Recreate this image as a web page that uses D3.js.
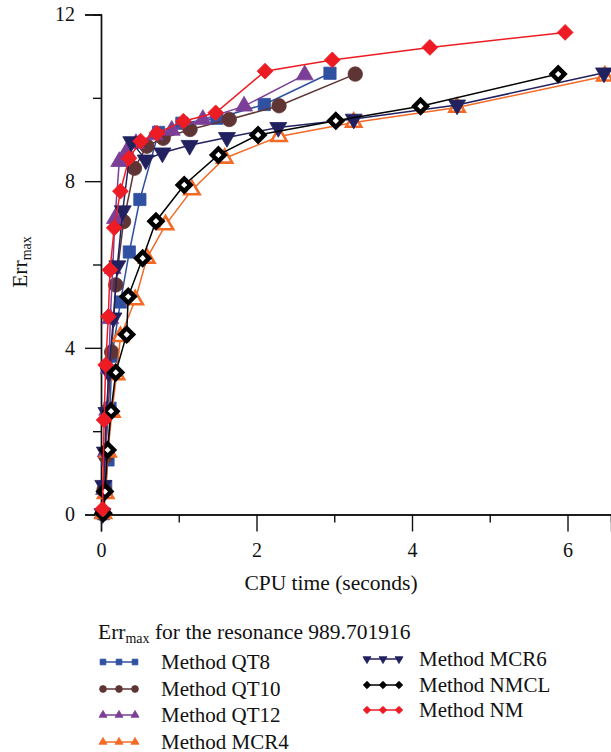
<!DOCTYPE html>
<html>
<head>
<meta charset="utf-8">
<script src="https://cdn.jsdelivr.net/npm/d3@7"></script>
<style>
  body { margin: 0; background: #fff; }
  text { font-family: "Liberation Serif", "Times New Roman", serif; fill: #111; }
</style>
</head>
<body>
<div id="chart"></div>
<script>

// DATA (CPU time in seconds, Err max)

const qt8X   = [0.03, 0.06, 0.09, 0.116, 0.14, 0.25, 0.364, 0.5, 0.74, 1.04, 1.49, 2.1, 2.945];
const qt8Y   = [0.02, 0.67, 1.31, 2.55, 3.8, 5.1, 6.3, 7.56, 9.17, 9.39, 9.51, 9.84, 10.59];

const qt10X  = [0.02, 0.04, 0.06, 0.09, 0.137, 0.19, 0.29, 0.43, 0.59, 0.8, 1.145, 1.65, 2.29, 3.27];
const qt10Y  = [0.02, 0.6, 1.4, 2.5, 3.9, 5.51, 7.03, 8.31, 8.84, 9.03, 9.24, 9.48, 9.81, 10.57];

const qt12X  = [0.02, 0.04, 0.06, 0.08, 0.1, 0.12, 0.15, 0.18, 0.235, 0.33, 0.45, 0.69, 0.91, 1.31, 1.84, 2.62];
const qt12Y  = [0.02, 0.6, 1.5, 2.5, 3.5, 4.7, 5.9, 7.1, 8.47, 8.71, 8.9, 9.11, 9.22, 9.48, 9.8, 10.55];

const mcr4X  = [0.03, 0.06, 0.09, 0.14, 0.2, 0.25, 0.44, 0.59, 0.83, 1.17, 1.59, 2.29, 3.25, 4.58, 6.48];
const mcr4Y  = [0.02, 0.5, 1.5, 2.45, 3.35, 4.27, 5.15, 6.15, 6.95, 7.79, 8.55, 9.07, 9.41, 9.77, 10.52];

const mcr6X  = [0.02, 0.03, 0.05, 0.07, 0.1, 0.16, 0.21, 0.28, 0.39, 0.575, 0.79, 1.14, 1.62, 2.28, 3.25, 4.58, 6.47];
const mcr6Y  = [0.02, 0.7, 1.5, 2.45, 3.4, 4.72, 5.97, 7.29, 8.95, 8.51, 8.68, 8.86, 9.05, 9.29, 9.49, 9.83, 10.6];

const nmclX  = [0.03, 0.05, 0.086, 0.129, 0.19, 0.33, 0.35, 0.536, 0.707, 1.07, 1.51, 2.02, 3.02, 4.11, 5.88];
const nmclY  = [0.03, 0.55, 1.55, 2.48, 3.41, 4.32, 5.23, 6.15, 7.04, 7.91, 8.63, 9.11, 9.45, 9.8, 10.57];

const nmX    = [0.02, 0.04, 0.06, 0.094, 0.116, 0.17, 0.25, 0.36, 0.51, 0.72, 1.06, 1.475, 2.11, 2.975, 4.23, 5.97];
const nmY    = [0.13, 2.27, 3.59, 4.75, 5.87, 6.88, 7.76, 8.55, 8.96, 9.15, 9.44, 9.64, 10.64, 10.91, 11.21, 11.57];

const xMajorTicks = [0, 2, 4, 6];
const xMinorTicks = [1, 3, 5];
const yMajorTicks = [0, 4, 8, 12];
const yMinorTicks = [2, 6, 10];

const legendTitle = "for the resonance 989.701916";

// SERIES

const series = [
    {name: "Method QT8",  xs: qt8X,  ys: qt8Y,  color: "#3050a2", shape: "square"},
    {name: "Method QT10", xs: qt10X, ys: qt10Y, color: "#5e3534", shape: "circle"},
    {name: "Method QT12", xs: qt12X, ys: qt12Y, color: "#7c3f97", shape: "triangle"},
    {name: "Method MCR4", xs: mcr4X, ys: mcr4Y, color: "#f26a25", shape: "openTriangle"},
    {name: "Method MCR6", xs: mcr6X, ys: mcr6Y, color: "#222160", shape: "downTriangle"},
    {name: "Method NMCL", xs: nmclX, ys: nmclY, color: "#000000", shape: "openDiamond"},
    {name: "Method NM",   xs: nmX,   ys: nmY,   color: "#ed1c24", shape: "diamond"}
];

// SVG CANVAS

const width = 611;
const height = 752;
const margin = {top: 14.5, left: 101, right: 0, bottom: 237.5};

const svg = d3.select("#chart")
    .append("svg")
    .attr("width", width)
    .attr("height", height);

// SCALES

const xScale = d3.scaleLinear()
    .domain([0, (width - margin.left) / 77.75])
    .range([margin.left, width - margin.right]);

const yScale = d3.scaleLinear()
    .domain([0, 12])
    .range([height - margin.bottom, margin.top]);

// AXES

function styleAxis(g) {
    g.select(".domain").attr("stroke", "#111").attr("stroke-width", 1.4);
    g.selectAll(".tick line").attr("stroke", "#111").attr("stroke-width", 1.4);
    g.selectAll(".tick text")
        .attr("font-family", "Liberation Serif, serif")
        .attr("font-size", 20)
        .attr("fill", "#111");
}

const xAxisY = yScale(0);

svg.append("g")
    .attr("transform", `translate(0,${xAxisY})`)
    .call(d3.axisBottom(xScale).tickValues(xMinorTicks).tickSize(8).tickFormat(""))
    .call(styleAxis);

svg.append("g")
    .attr("transform", `translate(0,${xAxisY})`)
    .call(d3.axisBottom(xScale).tickValues(xMajorTicks).tickSize(17).tickPadding(11).tickFormat(d3.format("d")))
    .call(styleAxis);

svg.append("g")
    .attr("transform", `translate(${margin.left},0)`)
    .call(d3.axisLeft(yScale).tickValues(yMinorTicks).tickSize(8).tickFormat(""))
    .call(styleAxis);

svg.append("g")
    .attr("transform", `translate(${margin.left},0)`)
    .call(d3.axisLeft(yScale).tickValues(yMajorTicks).tickSize(16).tickPadding(10).tickFormat(d3.format("d")))
    .call(styleAxis);

// AXIS LABELS

svg.append("text")
    .attr("x", 331)
    .attr("y", 590)
    .attr("text-anchor", "middle")
    .attr("font-size", 21.5)
    .text("CPU time (seconds)");

const yLabel = svg.append("text")
    .attr("transform", "translate(27,262) rotate(-90)")
    .attr("text-anchor", "middle")
    .attr("font-size", 21.5);
yLabel.append("tspan").text("Err");
yLabel.append("tspan").attr("font-size", 14).attr("dy", 4).text("max");

// MARKERS

function markerPath(shape, big) {
    const s = big ? 1 : 0.22;
    if (shape === "square") return d3.symbol(d3.symbolSquare, 150 * s)();
    if (shape === "circle") return d3.symbol(d3.symbolCircle, 165 * s)();
    if (shape === "triangle" || shape === "downTriangle") return d3.symbol(d3.symbolTriangle, 125 * s)();
    if (shape === "openTriangle") return d3.symbol(d3.symbolTriangle, 100 * s)();
    if (shape === "openDiamond") return d3.symbol(d3.symbolSquare, 80 * s)();
    return d3.symbol(d3.symbolSquare, 125 * s)();
}

function markerRotate(shape) {
    if (shape === "downTriangle") return 180;
    if (shape === "diamond" || shape === "openDiamond") return 45;
    return 0;
}

function drawMarkers(sel, d, big) {
    sel.attr("d", markerPath(d.shape, big))
        .attr("fill", (d.shape === "openTriangle" || d.shape === "openDiamond") ? "#fff" : d.color)
        .attr("stroke", d.color)
        .attr("stroke-width", d.shape === "openDiamond" ? (big ? 4.5 : 1) : (d.shape === "openTriangle" ? (big ? 2.6 : 1) : 0.8));
}

// DRAW LINES AND POINTS

const line = d3.line()
    .x(function(p) { return xScale(p[0]); })
    .y(function(p) { return yScale(p[1]); });

series.forEach(function(d) {
    const pts = d.xs.map(function(x, i) { return [x, d.ys[i]]; });
    const g = svg.append("g");

    g.append("path")
        .attr("d", line(pts))
        .attr("fill", "none")
        .attr("stroke", d.color)
        .attr("stroke-width", 1.5);

    g.selectAll("path.pt")
        .data(pts)
        .enter()
        .append("path")
        .attr("class", "pt")
        .attr("transform", function(p) { return `translate(${xScale(p[0])},${yScale(p[1])}) rotate(${markerRotate(d.shape)})`; })
        .call(function(sel) { drawMarkers(sel, d, true); });
});

// LEGEND

const title = svg.append("text")
    .attr("x", 98)
    .attr("y", 639)
    .attr("font-size", 21.5);
title.append("tspan").text("Err");
title.append("tspan").attr("font-size", 14).attr("dy", 4).text("max");
title.append("tspan").attr("dy", -4).text(" " + legendTitle);

const legendPos = [
    {x: 100, y: 662}, {x: 100, y: 689}, {x: 100, y: 715}, {x: 100, y: 742},
    {x: 364, y: 659}, {x: 364, y: 685}, {x: 364, y: 710}
];

series.forEach(function(d, i) {
    const pos = legendPos[i];
    const g = svg.append("g").attr("transform", `translate(${pos.x},${pos.y})`);

    g.append("line")
        .attr("x1", 0).attr("x2", 38)
        .attr("stroke", d.color)
        .attr("stroke-width", 1.6);

    [3, 19, 35].forEach(function(mx) {
        g.append("path")
            .attr("transform", `translate(${mx},0) rotate(${markerRotate(d.shape)})`)
            .call(function(sel) {
                drawMarkers(sel, Object.assign({}, d, {shape: d.shape === "openTriangle" ? "triangle" : (d.shape === "openDiamond" ? "diamond" : d.shape)}), false);
            });
    });

    g.append("text")
        .attr("x", pos.x === 100 ? 61 : 55)
        .attr("y", 6.5)
        .attr("font-size", 21)
        .text(d.name);
});

</script>
</body>
</html>
